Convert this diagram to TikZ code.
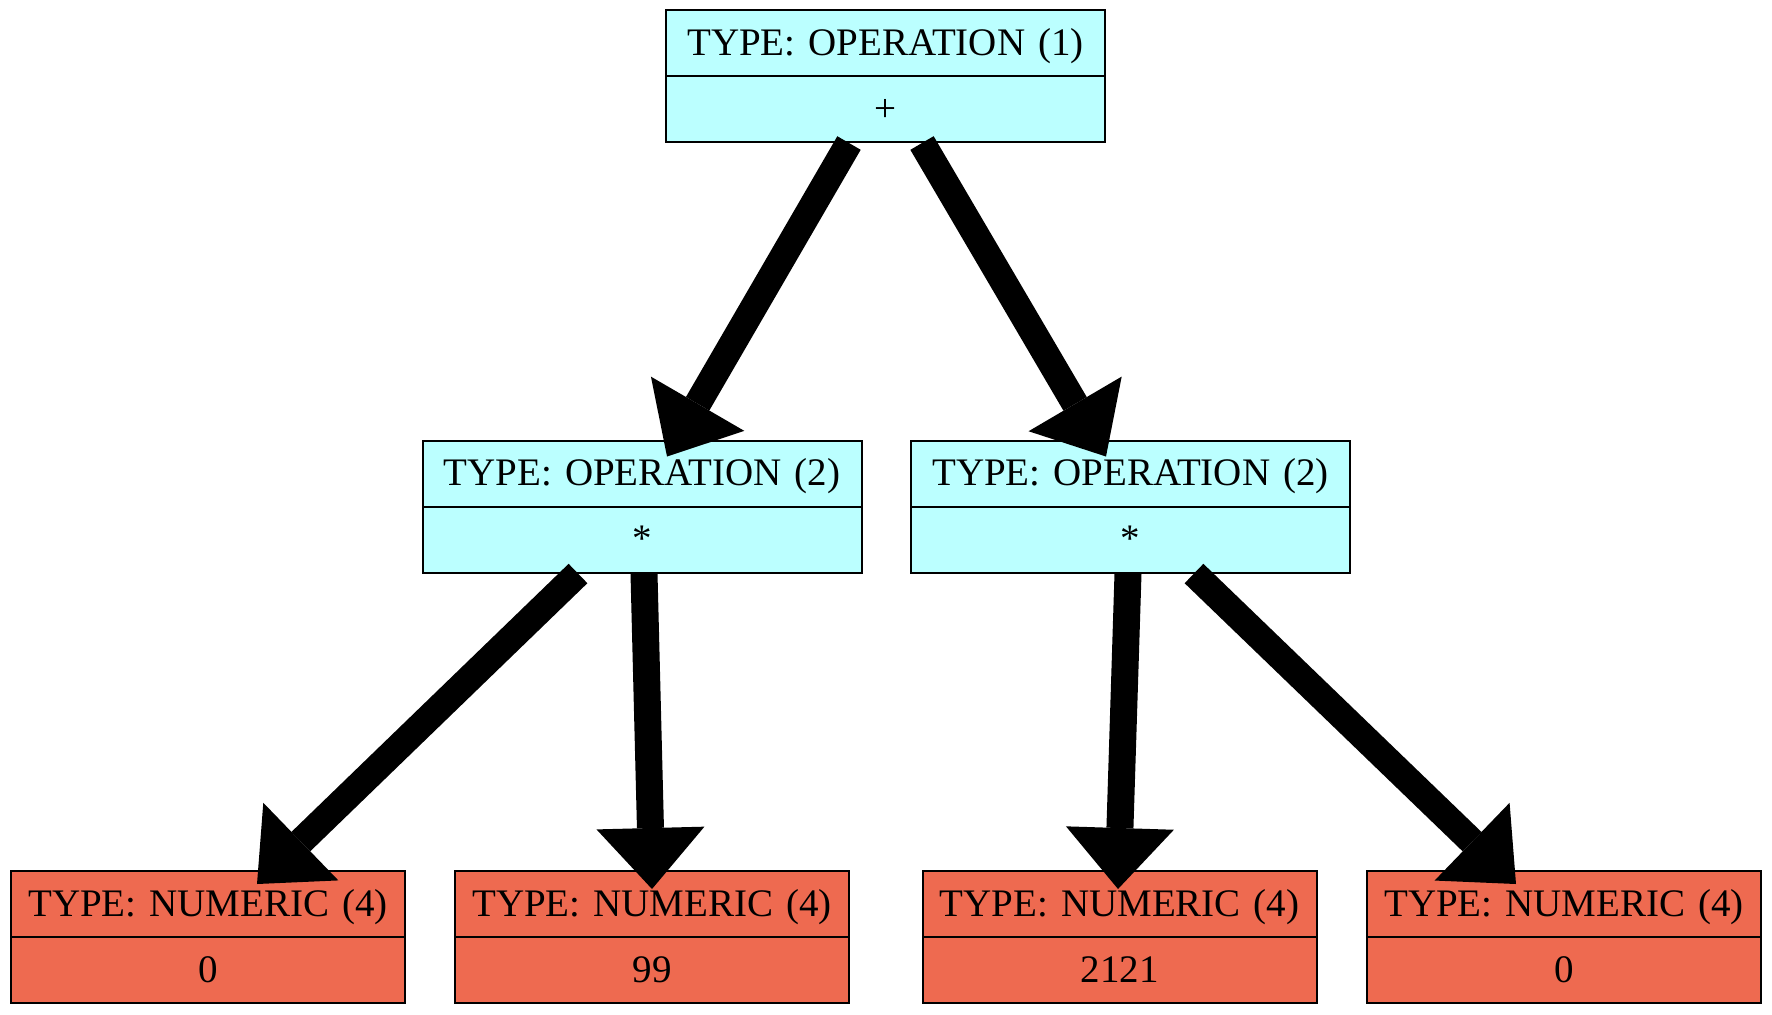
\documentclass[tikz,border=0pt]{standalone}
\usepackage{fontspec}
\setmainfont{Liberation Serif}
\usepackage{tikz}
\usetikzlibrary{arrows.meta,shapes.multipart,calc}
\definecolor{opcyan}{HTML}{BBFFFF}
\definecolor{numcoral}{HTML}{EE6A50}
\newcommand{\partstrut}{\rule[-10pt]{0pt}{32pt}}
\tikzset{
  recbox/.style={draw, line width=1pt, rectangle split, rectangle split parts=2,
    inner xsep=0pt, inner ysep=0pt, align=center,
    font=\fontsize{19.5}{23}\selectfont},
  opbox/.style={recbox, fill=opcyan, text width=219.5pt},
  numbox/.style={recbox, fill=numcoral, text width=197pt},
  arrw/.style={line width=13.5pt,
    -{Triangle[length=30.5pt, width=54pt, line width=0pt]}},
}

\begin{document}
\begin{tikzpicture}[x=0.5pt, y=-0.5pt]
  \useasboundingbox (0,0) rectangle (1772,1014);

  \node[opbox] (op1) at (885.5,76)
    {\partstrut TYPE: OPERATION (1)\nodepart{two}\partstrut +};
  \node[opbox] (op2a) at (642,506.5)
    {\partstrut TYPE: OPERATION (2)\nodepart{two}\partstrut *};
  \node[opbox] (op2b) at (1130.5,506.5)
    {\partstrut TYPE: OPERATION (2)\nodepart{two}\partstrut *};

  \node[numbox] (num1) at (208,937)
    {\partstrut TYPE: NUMERIC (4)\nodepart{two}\partstrut 0};
  \node[numbox] (num2) at (652,937)
    {\partstrut TYPE: NUMERIC (4)\nodepart{two}\partstrut 99};
  \node[numbox] (num3) at (1119.5,937)
    {\partstrut TYPE: NUMERIC (4)\nodepart{two}\partstrut 2121};
  \node[numbox] (num4) at (1564,937)
    {\partstrut TYPE: NUMERIC (4)\nodepart{two}\partstrut 0};

  \draw[arrw] ($(op1.south)+(-36.5,0)$) -- ($(op2a.north)+(25,17)$);
  \draw[arrw] ($(op1.south)+(36.5,0)$) -- ($(op2b.north)+(-24.5,17)$);
  \draw[arrw] ($(op2a.south)+(-64,0)$) -- ($(num1.north)+(49,14)$);
  \draw[arrw] ($(op2a.south)+(2,0)$) -- ($(num2.north)+(0,19)$);
  \draw[arrw] ($(op2b.south)+(-2.5,0)$) -- ($(num3.north)+(-1.5,19)$);
  \draw[arrw] ($(op2b.south)+(63.5,0)$) -- ($(num4.north)+(-48,14)$);
\end{tikzpicture}
\end{document}
